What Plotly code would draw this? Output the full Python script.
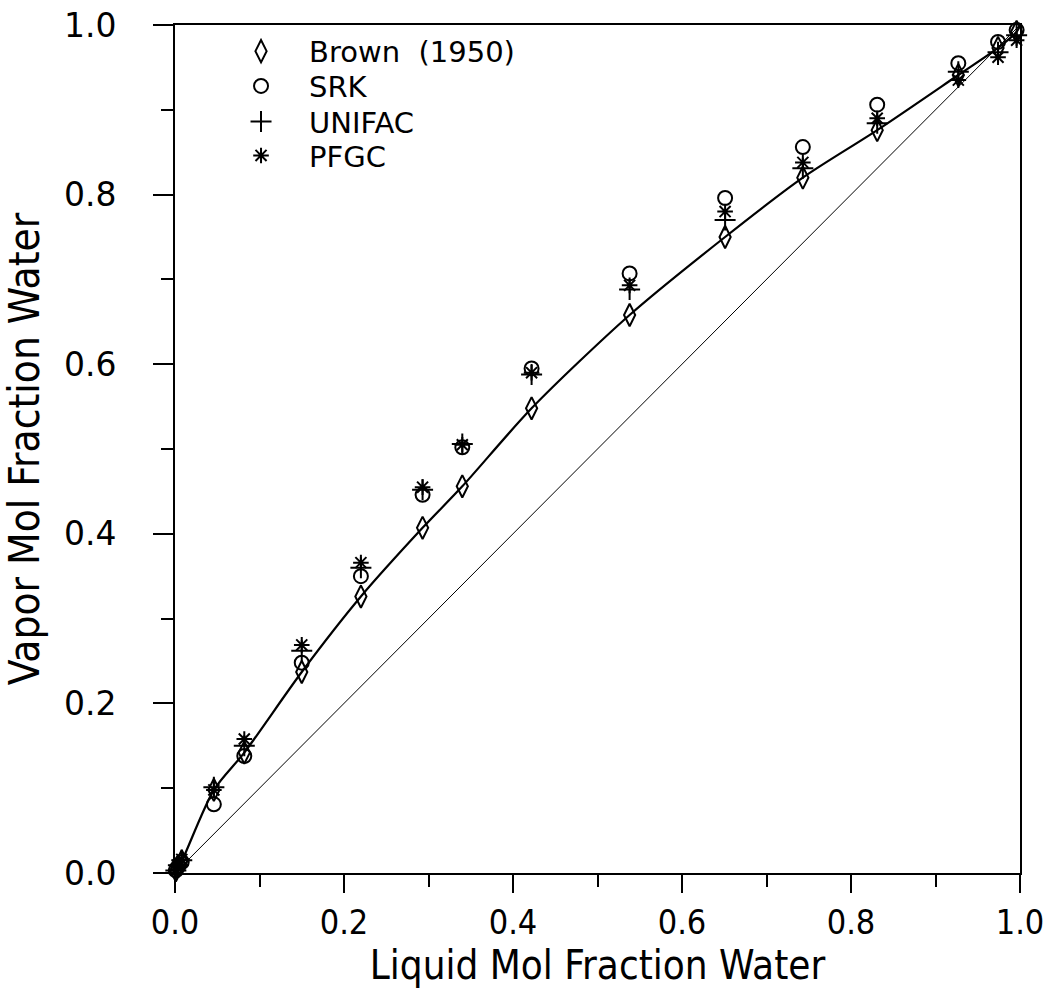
import plotly.graph_objects as go

# Experimental liquid compositions (mol fraction water)
x_liquid = [0.001, 0.004, 0.008, 0.046, 0.082, 0.150, 0.220, 0.293, 0.340,
            0.422, 0.538, 0.651, 0.743, 0.831, 0.927, 0.974, 0.996]
# Vapor compositions
y_brown = [0.003, 0.008, 0.014, 0.098, 0.142, 0.237, 0.326, 0.407, 0.456,
           0.548, 0.658, 0.750, 0.820, 0.876, 0.941, 0.973, 0.992]
y_srk = [0.003, 0.008, 0.013, 0.081, 0.138, 0.248, 0.350, 0.446, 0.502,
         0.595, 0.707, 0.796, 0.856, 0.906, 0.955, 0.980, 0.994]
y_unifac = [0.003, 0.009, 0.015, 0.101, 0.150, 0.262, 0.360, 0.452, 0.506,
            0.588, 0.688, 0.770, 0.831, 0.884, 0.945, 0.968, 0.988]
y_pfgc = [0.004, 0.010, 0.016, 0.098, 0.158, 0.269, 0.366, 0.455, 0.505,
          0.590, 0.693, 0.780, 0.838, 0.890, 0.935, 0.962, 0.982]

# Smooth curve through Brown data (with pure-component endpoints)
curve_x = [0.0] + x_liquid + [1.0]
curve_y = [0.0] + y_brown + [1.0]
# 45-degree reference line
diag_x = [0.0, 1.0]
diag_y = [0.0, 1.0]

tick_vals = [0.0, 0.2, 0.4, 0.6, 0.8, 1.0]
tick_text = ["0.0", "0.2", "0.4", "0.6", "0.8", "1.0"]

series = [
    ("Brown  (1950)", y_brown, "diamond-tall-open", 16, "legend"),
    ("SRK", y_srk, "circle-open", 14, "legend2"),
    ("UNIFAC", y_unifac, "cross-thin-open", 15, "legend3"),
    ("PFGC", y_pfgc, "asterisk-open", 13, "legend4"),
]
legend_rows = [0.969, 0.928, 0.886, 0.846]

fig = go.Figure()
fig.add_trace(go.Scatter(x=diag_x, y=diag_y, mode="lines",
                         line=dict(color="black", width=1), showlegend=False,
                         hoverinfo="skip"))
fig.add_trace(go.Scatter(x=curve_x, y=curve_y, mode="lines",
                         line=dict(color="black", width=2.2, shape="spline", smoothing=0.8),
                         showlegend=False, hoverinfo="skip"))

mk_line = dict(color="black", width=2)
for name, yv, sym, sz, lg in series:
    fig.add_trace(go.Scatter(x=x_liquid, y=yv, mode="markers", name=name, legend=lg,
                             marker=dict(symbol=sym, size=sz, color="black", line=mk_line),
                             cliponaxis=False))

cond = "DejaVu Sans Condensed, sans-serif"
wide = "DejaVu Sans, sans-serif"

legend_common = dict(x=0.045, xanchor="left", yanchor="middle",
                     bgcolor="rgba(0,0,0,0)",
                     font=dict(family=wide, size=29, color="black"),
                     itemwidth=86)

fig.update_layout(
    width=1052, height=997,
    margin=dict(l=175, r=32, t=25, b=124, autoexpand=False),
    paper_bgcolor="white", plot_bgcolor="white",
    legend=dict(y=legend_rows[0], **legend_common),
    legend2=dict(y=legend_rows[1], **legend_common),
    legend3=dict(y=legend_rows[2], **legend_common),
    legend4=dict(y=legend_rows[3], **legend_common),
)
fig.update_xaxes(
    range=[0, 1], tickvals=tick_vals, ticktext=tick_text, automargin=False,
    ticks="outside", ticklen=18, tickwidth=2, tickcolor="black",
    ticklabeloverflow="allow",
    minor=dict(dtick=0.1, ticks="outside", ticklen=12, tickwidth=2, tickcolor="black"),
    showline=True, linecolor="black", linewidth=2, mirror=True,
    showgrid=False, zeroline=False,
    tickfont=dict(family=cond, size=34, color="black"),
    title=dict(text="Liquid Mol Fraction Water", font=dict(family=cond, size=40, color="black"),
               standoff=6),
)
fig.update_yaxes(
    range=[0, 1], tickvals=tick_vals, ticktext=tick_text, automargin=False,
    ticks="outside", ticklen=20, tickwidth=2, tickcolor="black", ticklabelstandoff=30,
    ticklabeloverflow="allow",
    minor=dict(dtick=0.1, ticks="outside", ticklen=12, tickwidth=2, tickcolor="black"),
    showline=True, linecolor="black", linewidth=2, mirror=True,
    showgrid=False, zeroline=False,
    tickfont=dict(family=wide, size=33, color="black"),
    title=dict(text="Vapor Mol Fraction Water", font=dict(family=cond, size=42, color="black"),
               standoff=12),
)

fig.write_html("out.html", config={"displayModeBar": False},
               post_script="document.body.style.margin='0px';document.body.style.overflow='hidden';")
